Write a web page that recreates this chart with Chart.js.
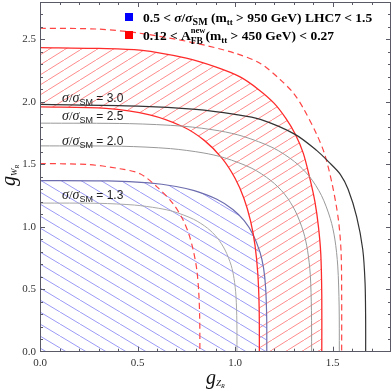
<!DOCTYPE html>
<html>
<head>
<meta charset="utf-8">
<script src="https://cdn.jsdelivr.net/npm/chart.js@4.4.1/dist/chart.umd.min.js"></script>
<style>
html, body { margin: 0; padding: 0; background: #fff; }
</style>
</head>
<body>
<canvas id="chart-contours" width="392" height="391"></canvas>
<script>
// axis ranges and tick labels
var xMax = 1.8, yMax = 2.8;
var xTicks = [0.0, 0.5, 1.0, 1.5];
var yTicks = [0.0, 0.5, 1.0, 1.5, 2.0, 2.5];

// sigma/sigma_SM contours, points are [gZ, gW]
var sig30 = [[0,1.98],[0.5,1.967],[0.8,1.94],[1.0,1.9],[1.13,1.86],[1.308,1.74],[1.42,1.61],[1.48,1.52],[1.54,1.42],[1.58,1.30],[1.624,1.08],[1.655,0.82],[1.667,0.55],[1.67,0.25],[1.67,0]];
var sig25 = [[0,1.83],[0.46,1.826],[0.737,1.805],[0.921,1.768],[1.044,1.723],[1.197,1.631],[1.305,1.522],[1.382,1.402],[1.443,1.252],[1.489,1.065],[1.512,0.902],[1.527,0.686],[1.534,0.366],[1.535,0]];
var sig20 = [[0,1.648],[0.418,1.645],[0.669,1.626],[0.836,1.592],[0.947,1.552],[1.087,1.468],[1.184,1.37],[1.254,1.262],[1.309,1.127],[1.351,0.959],[1.372,0.812],[1.386,0.618],[1.392,0.33],[1.393,0]];
var sig13 = [[0,1.19],[0.303,1.188],[0.485,1.174],[0.606,1.149],[0.687,1.121],[0.788,1.06],[0.859,0.989],[0.909,0.912],[0.949,0.814],[0.98,0.693],[0.995,0.587],[1.005,0.446],[1.0096,0.238],[1.01,0]];
// LHC7 bound sigma/sigma_SM = 1.5 (blue region)
var lhcBound = [[0,1.37],[0.349,1.367],[0.558,1.351],[0.698,1.323],[0.791,1.29],[0.907,1.221],[0.989,1.139],[1.047,1.049],[1.093,0.937],[1.128,0.797],[1.146,0.675],[1.157,0.514],[1.1625,0.274],[1.163,0]];
// A_FB^new band (red region)
var afbLow = [[0,1.96],[0.3375,1.949],[0.5625,1.897],[0.731,1.803],[0.844,1.69],[0.934,1.548],[1.001,1.387],[1.046,1.227],[1.08,1.046],[1.1025,0.854],[1.117,0.624],[1.124,0.347],[1.125,0]];
var afbHigh = [[0,2.435],[0.3,2.428],[0.513,2.414],[0.75,2.35],[0.9,2.28],[1.026,2.2],[1.12,2.1],[1.2,1.99],[1.26,1.87],[1.308,1.745],[1.35,1.59],[1.385,1.38],[1.41,1.2],[1.428,1.0],[1.44,0.78],[1.445,0.45],[1.445,0]];
// dashed red contours
var afbDashIn = [[0,1.507],[0.25,1.498],[0.41,1.465],[0.513,1.425],[0.6,1.32],[0.68,1.19],[0.73,1.066],[0.763,0.943],[0.787,0.805],[0.804,0.657],[0.814,0.48],[0.819,0.267],[0.82,0]];
var afbDashOut = [[0,2.59],[0.3,2.583],[0.513,2.55],[0.8,2.47],[1.0,2.39],[1.128,2.31],[1.231,2.18],[1.3,2.07],[1.35,1.95],[1.419,1.74],[1.46,1.58],[1.5,1.33],[1.53,1.06],[1.544,0.8],[1.547,0.45],[1.547,0]];

// contour labels (value, anchor in data units)
var contourLabels = [
    { value: '3.0', x: 0.113, y: 1.998 },
    { value: '2.5', x: 0.113, y: 1.858 },
    { value: '2.0', x: 0.113, y: 1.659 },
    { value: '1.3', x: 0.113, y: 1.222 }
];

function toPts(arr) {
    return arr.map(function(p) { return { x: p[0], y: p[1] }; });
}

function makeHatch(color, w, h, dir) {
    var c = document.createElement('canvas');
    c.width = w;
    c.height = h;
    var g = c.getContext('2d');
    g.strokeStyle = color;
    g.lineWidth = 1;
    for (var k = -1; k <= 1; k++) {
        g.beginPath();
        if (dir > 0) {
            g.moveTo(k * w, h);
            g.lineTo(k * w + w, 0);
        } else {
            g.moveTo(k * w, 0);
            g.lineTo(k * w + w, h);
        }
        g.stroke();
    }
    return g.createPattern(c, 'repeat');
}

var redHatch = makeHatch('#ff8c8c', 16, 10, 1);
var blueHatch = makeHatch('#9c9cf6', 20, 12, -1);

// fill target for the red band: lower edge continued along the axis
var afbLowTarget = afbLow.concat([[afbLow[afbLow.length - 1][0], -0.03], [afbHigh[afbHigh.length - 1][0], -0.03]]);

function runText(ctx, x, y, runs) {
    runs.forEach(function(r) {
        ctx.font = r.font;
        ctx.fillText(r.t, x, y + (r.dy || 0));
        x += ctx.measureText(r.t).width;
    });
    return x;
}

function noPad(s) {
    s.paddingTop = 0;
    s.paddingBottom = 0;
    s.paddingLeft = 0;
    s.paddingRight = 0;
}

var decorPlugin = {
    id: 'decor',
    afterDraw: function(chart) {
        var ctx = chart.ctx, a = chart.chartArea;
        var xs = chart.scales.x, ys = chart.scales.y;
        ctx.save();
        // frame with inward ticks
        ctx.strokeStyle = '#5a5a66';
        ctx.lineWidth = 1;
        ctx.strokeRect(Math.round(a.left) + 0.5, Math.round(a.top) + 0.5, Math.round(a.right - a.left) - 1, Math.round(a.bottom - a.top) - 1);
        ctx.beginPath();
        var i, p, len;
        for (i = 1; i < Math.round(xMax * 10); i++) {
            p = Math.round(xs.getPixelForValue(i / 10)) + 0.5;
            len = (i % 5 === 0) ? 5 : 3;
            ctx.moveTo(p, a.bottom); ctx.lineTo(p, a.bottom - len);
            ctx.moveTo(p, a.top); ctx.lineTo(p, a.top + len);
        }
        for (i = 1; i < Math.round(yMax * 10); i++) {
            p = Math.round(ys.getPixelForValue(i / 10)) + 0.5;
            len = (i % 5 === 0) ? 5 : 3;
            ctx.moveTo(a.left, p); ctx.lineTo(a.left + len, p);
            ctx.moveTo(a.right, p); ctx.lineTo(a.right - len, p);
        }
        ctx.stroke();

        // contour labels
        ctx.fillStyle = '#222';
        ctx.textBaseline = 'alphabetic';
        contourLabels.forEach(function(l) {
            var px = xs.getPixelForValue(l.x), py = ys.getPixelForValue(l.y);
            runText(ctx, px, py, [
                { t: 'σ', font: 'italic 14px "Liberation Serif"' },
                { t: '/', font: '13px "Liberation Serif"' },
                { t: 'σ', font: 'italic 14px "Liberation Serif"' },
                { t: 'SM', font: '9px "Liberation Sans"', dy: 3 },
                { t: ' = ' + l.value, font: '12px "Liberation Sans"' }
            ]);
        });

        // legend
        ctx.fillStyle = '#0000ff';
        ctx.fillRect(125, 13, 8, 8);
        ctx.fillStyle = '#ff0000';
        ctx.fillRect(125, 31, 8, 8);
        ctx.fillStyle = '#000';
        var B = 'bold 13.5px "Liberation Serif"';
        runText(ctx, 143, 21.5, [
            { t: '0.5 < ', font: B },
            { t: 'σ', font: 'italic bold 13.5px "Liberation Serif"' },
            { t: '/', font: B },
            { t: 'σ', font: 'italic bold 13.5px "Liberation Serif"' },
            { t: 'SM', font: 'bold 10px "Liberation Serif"', dy: 3 },
            { t: ' (m', font: B },
            { t: 'tt', font: 'bold 9px "Liberation Serif"', dy: 3 },
            { t: ' > 950 GeV) LHC7 < 1.5', font: B }
        ]);
        var x2 = runText(ctx, 143, 39.5, [{ t: '0.12 < A', font: B }]);
        ctx.font = 'bold 8.5px "Liberation Serif"';
        var wNew = ctx.measureText('new').width;
        ctx.fillText('new', x2, 33);
        ctx.font = 'bold 9.5px "Liberation Serif"';
        ctx.fillText('FB', x2, 43.5);
        runText(ctx, x2 + wNew, 39.5, [
            { t: '(m', font: B },
            { t: 'tt', font: 'bold 9px "Liberation Serif"', dy: 3 },
            { t: ' > 450 GeV) < 0.27', font: B }
        ]);

        // axis titles
        ctx.fillStyle = '#111';
        runText(ctx, 206, 384, [
            { t: 'g', font: 'italic 20px "Liberation Serif"' },
            { t: 'Z', font: 'italic 9px "Liberation Serif"', dy: 2 },
            { t: 'R', font: 'italic 6px "Liberation Serif"', dy: 4 }
        ]);
        ctx.translate(15, 186);
        ctx.rotate(-Math.PI / 2);
        runText(ctx, 0, 0, [
            { t: 'g', font: 'italic 20px "Liberation Serif"' },
            { t: 'W', font: 'italic 9px "Liberation Serif"', dy: 2 },
            { t: 'R', font: 'italic 6px "Liberation Serif"', dy: 4 }
        ]);
        ctx.restore();
    }
};

var CONTOURS = document.getElementById('chart-contours');
var contourChart = new Chart(CONTOURS, {
    type: 'scatter',
    data: {
        datasets: [
            { data: toPts(sig30), showLine: true, borderColor: '#333333', borderWidth: 1.2 },
            { data: toPts(sig25), showLine: true, borderColor: '#999999', borderWidth: 1 },
            { data: toPts(sig20), showLine: true, borderColor: '#999999', borderWidth: 1 },
            { data: toPts(sig13), showLine: true, borderColor: '#a8a8a8', borderWidth: 1 },
            { data: toPts(afbHigh), showLine: true, borderColor: '#ff2b2b', borderWidth: 1.3 },
            { data: toPts(afbLow), showLine: true, borderColor: '#ff2b2b', borderWidth: 1.3 },
            { data: toPts(afbDashOut), showLine: true, borderColor: '#ff4444', borderWidth: 1.2, borderDash: [6, 4] },
            { data: toPts(afbDashIn), showLine: true, borderColor: '#ff4444', borderWidth: 1.2, borderDash: [6, 4] },
            { data: toPts(lhcBound), showLine: true, borderColor: '#6c6cae', borderWidth: 1.2 },
            // hatched regions
            { data: toPts(lhcBound), showLine: true, borderWidth: 0, borderColor: 'rgba(0,0,0,0)', fill: 'origin', backgroundColor: blueHatch },
            { data: toPts(afbHigh), showLine: true, borderWidth: 0, borderColor: 'rgba(0,0,0,0)', fill: '+1', backgroundColor: redHatch },
            { data: toPts(afbLowTarget), showLine: true, borderWidth: 0, borderColor: 'rgba(0,0,0,0)' }
        ]
    },
    options: {
        responsive: false,
        animation: false,
        devicePixelRatio: 1,
        layout: { padding: { top: 2, right: 1, left: 0, bottom: 0 } },
        elements: { point: { radius: 0 }, line: { tension: 0.3 } },
        plugins: { legend: { display: false }, tooltip: { enabled: false } },
        scales: {
            x: {
                type: 'linear', min: 0, max: xMax,
                afterBuildTicks: function(s) { s.ticks = xTicks.map(function(v) { return { value: v }; }); },
                afterFit: function(s) { s.height = 39.3; noPad(s); },
                grid: { display: false, drawTicks: false },
                border: { display: false },
                ticks: {
                    padding: 5, autoSkip: false, maxRotation: 0, color: '#333',
                    font: { family: 'Liberation Serif', size: 11 },
                    callback: function(v) { return Number(v).toFixed(1); }
                }
            },
            y: {
                type: 'linear', min: 0, max: yMax,
                afterBuildTicks: function(s) { s.ticks = yTicks.map(function(v) { return { value: v }; }); },
                afterFit: function(s) { s.width = 40; noPad(s); },
                grid: { display: false, drawTicks: false },
                border: { display: false },
                ticks: {
                    padding: 4, autoSkip: false, color: '#333',
                    font: { family: 'Liberation Serif', size: 11 },
                    callback: function(v) { return Number(v).toFixed(1); }
                }
            }
        }
    },
    plugins: [decorPlugin]
});
</script>
</body>
</html>
